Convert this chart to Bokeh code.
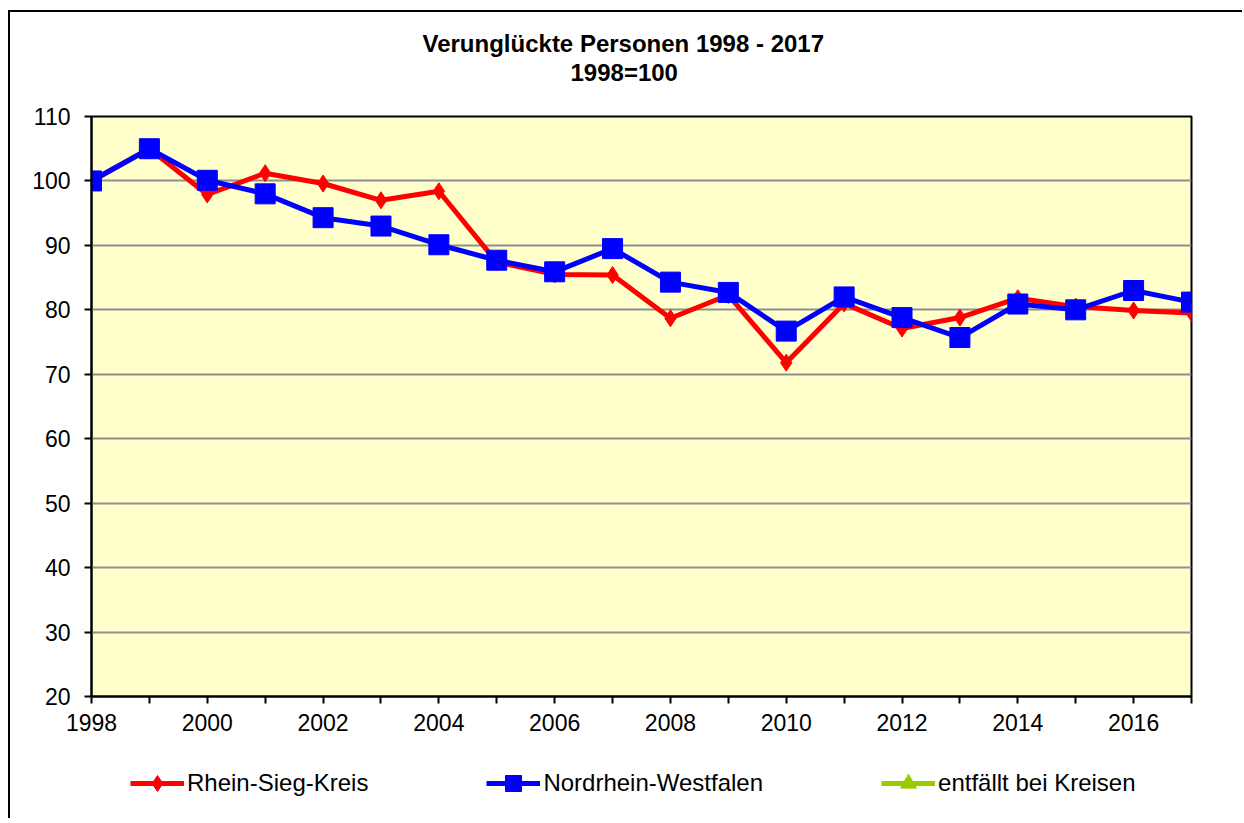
import math
from bokeh.plotting import figure
from bokeh.layouts import column
from bokeh.models import Range1d, FixedTicker, Legend, LegendItem, Title, ColumnDataSource
from bokeh.embed import file_html
from bokeh.resources import INLINE

# ---- data ----
jahre = list(range(1998, 2018))
rhein_sieg = [100.0, 105.0, 97.9, 101.2, 99.6, 97.0, 98.4, 87.4, 85.5, 85.4,
              78.7, 82.3, 71.8, 81.0, 77.1, 78.8, 81.8, 80.5, 79.9, 79.5]
nrw = [100.0, 105.0, 100.1, 98.0, 94.3, 93.0, 90.1, 87.7, 85.9, 89.5,
       84.3, 82.7, 76.7, 82.0, 78.8, 75.7, 80.9, 80.0, 83.0, 81.2]
# "entfällt bei Kreisen": no values for districts
kreise = [math.nan] * len(jahre)
y_ticks = list(range(20, 111, 10))
x_labels = {j: (str(j) if j % 2 == 0 else "") for j in jahre}

titel = "Verunglückte Personen 1998 - 2017"
untertitel = "1998=100"
namen = ["Rhein-Sieg-Kreis", "Nordrhein-Westfalen", "entfällt bei Kreisen"]

FONT = "Liberation Sans"
ROT, BLAU, GRUEN = "#FF0000", "#0000FF", "#99CC00"

src_r = ColumnDataSource(dict(x=jahre, y=rhein_sieg))
src_n = ColumnDataSource(dict(x=jahre, y=nrw))
src_k = ColumnDataSource(dict(x=jahre, y=kreise))

# ---- main chart ----
p = figure(width=1232, height=730,
           x_range=Range1d(1998, 2017), y_range=Range1d(20, 110),
           output_backend="svg", toolbar_location=None,
           min_border_left=81, min_border_right=51,
           min_border_top=104, min_border_bottom=46)

p.background_fill_color = "#FFFFCC"
p.border_fill_color = "white"
p.outline_line_color = "black"
p.outline_line_width = 2

p.xgrid.visible = False
p.ygrid.grid_line_color = "#8f8f8f"
p.ygrid.grid_line_width = 2

p.yaxis.ticker = FixedTicker(ticks=y_ticks)
p.xaxis.ticker = FixedTicker(ticks=jahre)
p.xaxis.major_label_overrides = x_labels
for ax in (p.xaxis, p.yaxis):
    ax.axis_line_color = "black"
    ax.axis_line_width = 2
    ax.major_tick_in = 0
    ax.major_tick_out = 7
    ax.major_tick_line_color = "black"
    ax.major_tick_line_width = 2
    ax.minor_tick_line_color = None
    ax.major_label_text_font = FONT
    ax.major_label_text_font_size = "23px"
    ax.major_label_text_color = "black"
p.yaxis.major_label_standoff = 14
p.xaxis.major_label_standoff = 10

p.line("x", "y", source=src_r, line_color=ROT, line_width=5)
p.scatter("x", "y", source=src_r, marker="diamond", size=17,
          fill_color=ROT, line_color=ROT)
p.line("x", "y", source=src_n, line_color=BLAU, line_width=5)
p.scatter("x", "y", source=src_n, marker="square", size=20,
          fill_color=BLAU, line_color=BLAU)
p.line("x", "y", source=src_k, line_color=GRUEN, line_width=5)
p.scatter("x", "y", source=src_k, marker="triangle", size=14,
          fill_color=GRUEN, line_color=GRUEN)

# spacer between subtitle and plot frame
p.add_layout(Title(text=" ", standoff=28, text_font_size="1px"), "above")
p.add_layout(Title(text=untertitel, align="left", offset=479, standoff=0,
                   text_font=FONT, text_font_size="24px", text_font_style="bold",
                   text_color="black"), "above")
p.add_layout(Title(text=titel, align="left", offset=331, standoff=0,
                   text_font=FONT, text_font_size="24px", text_font_style="bold",
                   text_color="black"), "above")

# ---- legend strip (same series, ranges keep the lines out of view) ----
q = figure(width=1232, height=76, x_range=Range1d(0, 1), y_range=Range1d(0, 1),
           output_backend="svg", toolbar_location=None,
           x_axis_type=None, y_axis_type=None, min_border=0)
q.grid.visible = False
q.outline_line_color = None
q.background_fill_color = "white"
q.border_fill_color = "white"

lr = q.line("x", "y", source=src_r, line_color=ROT, line_width=5)
mr = q.scatter("x", "y", source=src_r, marker="diamond", size=17,
               fill_color=ROT, line_color=ROT)
ln = q.line("x", "y", source=src_n, line_color=BLAU, line_width=5)
mn = q.scatter("x", "y", source=src_n, marker="square", size=20,
               fill_color=BLAU, line_color=BLAU)
lk = q.line("x", "y", source=src_k, line_color=GRUEN, line_width=5)
mk = q.scatter("x", "y", source=src_k, marker="triangle", size=14,
               fill_color=GRUEN, line_color=GRUEN)

legend = Legend(items=[LegendItem(label=namen[0], renderers=[lr, mr]),
                       LegendItem(label=namen[1], renderers=[ln, mn]),
                       LegendItem(label=namen[2], renderers=[lk, mk])],
                orientation="horizontal", location=(39, 15),
                glyph_width=54, glyph_height=40, label_standoff=3, spacing=118,
                padding=0, margin=0, border_line_color=None,
                background_fill_alpha=0,
                label_text_font=FONT, label_text_font_size="24px",
                label_text_color="black")
q.add_layout(legend, "center")

layout = column(p, q, spacing=0,
                styles={"margin-left": "8px", "margin-top": "10px",
                        "border-left": "2px solid black",
                        "border-top": "2px solid black"})

open("out.html", "w").write(file_html(layout, INLINE))
